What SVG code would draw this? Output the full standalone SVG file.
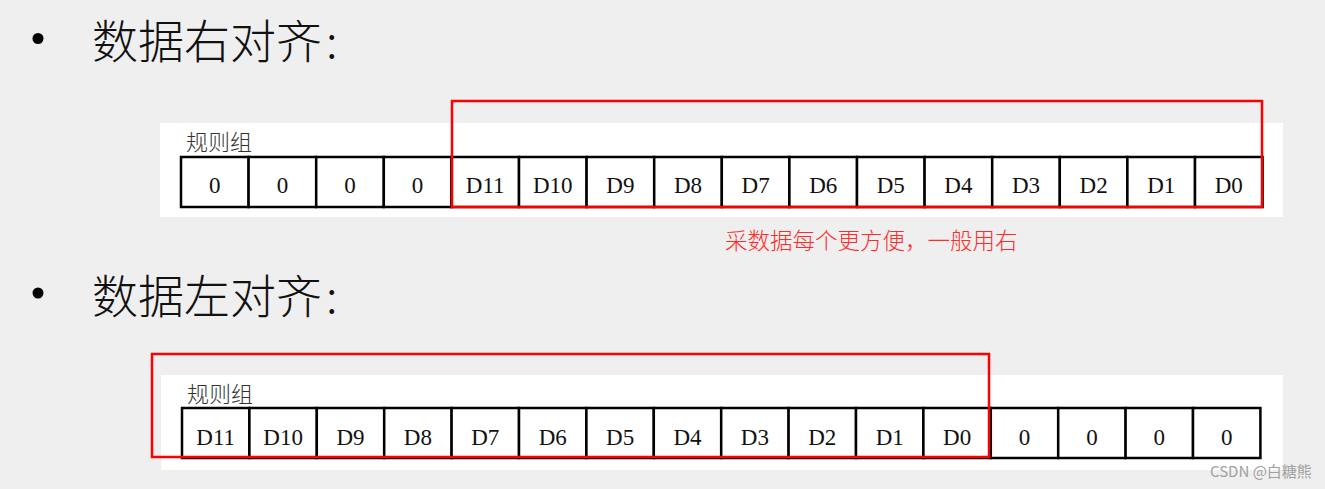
<svg xmlns="http://www.w3.org/2000/svg" width="1325" height="489" viewBox="0 0 1325 489">
<style>
.title{font-family:"Noto Sans CJK SC","Noto Sans",sans-serif;font-size:46px;font-weight:300;fill:#111}
.lbl{font-family:"Noto Sans CJK SC",sans-serif;font-size:22px;font-weight:300;fill:#333}
.cell rect{fill:#fff;stroke:#000;stroke-width:2.5}
.cell text{font-family:"Liberation Serif","Noto Sans CJK SC",serif;font-size:23px;fill:#111;text-anchor:middle}
.hl{fill:none;stroke:#ff0000;stroke-width:2.5}
.note{font-family:"Noto Sans CJK SC",sans-serif;font-size:22.5px;font-weight:300;fill:#ff2a2a}
.wm{font-family:"Noto Sans CJK SC","Liberation Sans",sans-serif;font-size:15px;fill:#a0a0a0}
</style>
<rect width="1325" height="489" fill="#efefef"/>

<g id="title1">
<circle cx="38" cy="38.5" r="5.5" fill="#000"/>
<text class="title" x="92" y="58">数据右对齐<tspan dx="4">:</tspan></text>
</g>

<g id="table1">
<rect x="160" y="123" width="1123" height="94" fill="#fff"/>
<text class="lbl" x="186" y="150">规则组</text>
<g class="cell">
<rect x="181" y="157" width="67.6" height="50"/><text x="214.8" y="193">0</text>
<rect x="248.6" y="157" width="67.6" height="50"/><text x="282.4" y="193">0</text>
<rect x="316.2" y="157" width="67.6" height="50"/><text x="350" y="193">0</text>
<rect x="383.8" y="157" width="67.6" height="50"/><text x="417.6" y="193">0</text>
<rect x="451.4" y="157" width="67.6" height="50"/><text x="485.2" y="193">D11</text>
<rect x="519" y="157" width="67.6" height="50"/><text x="552.8" y="193">D10</text>
<rect x="586.6" y="157" width="67.6" height="50"/><text x="620.4" y="193">D9</text>
<rect x="654.2" y="157" width="67.6" height="50"/><text x="688" y="193">D8</text>
<rect x="721.8" y="157" width="67.6" height="50"/><text x="755.6" y="193">D7</text>
<rect x="789.4" y="157" width="67.6" height="50"/><text x="823.2" y="193">D6</text>
<rect x="857" y="157" width="67.6" height="50"/><text x="890.8" y="193">D5</text>
<rect x="924.6" y="157" width="67.6" height="50"/><text x="958.4" y="193">D4</text>
<rect x="992.2" y="157" width="67.6" height="50"/><text x="1026" y="193">D3</text>
<rect x="1059.8" y="157" width="67.6" height="50"/><text x="1093.6" y="193">D2</text>
<rect x="1127.4" y="157" width="67.6" height="50"/><text x="1161.2" y="193">D1</text>
<rect x="1195" y="157" width="67.6" height="50"/><text x="1228.8" y="193">D0</text>
</g>
</g>

<g id="highlight1">
<rect class="hl" x="452" y="101" width="810" height="106"/>
</g>
<g id="note1">
<text class="note" x="725" y="249">采数据每个更方便，一般用右</text>
</g>

<g id="title2">
<circle cx="38" cy="293" r="5.5" fill="#000"/>
<text class="title" x="92" y="313">数据左对齐<tspan dx="4">:</tspan></text>
</g>

<g id="table2">
<rect x="161" y="375" width="1122" height="95" fill="#fff"/>
<text class="lbl" x="187" y="402">规则组</text>
<g class="cell">
<rect x="182" y="408" width="67.4" height="50"/><text x="215.7" y="445">D11</text>
<rect x="249.4" y="408" width="67.4" height="50"/><text x="283.1" y="445">D10</text>
<rect x="316.8" y="408" width="67.4" height="50"/><text x="350.5" y="445">D9</text>
<rect x="384.2" y="408" width="67.4" height="50"/><text x="417.9" y="445">D8</text>
<rect x="451.6" y="408" width="67.4" height="50"/><text x="485.3" y="445">D7</text>
<rect x="519" y="408" width="67.4" height="50"/><text x="552.7" y="445">D6</text>
<rect x="586.4" y="408" width="67.4" height="50"/><text x="620.1" y="445">D5</text>
<rect x="653.8" y="408" width="67.4" height="50"/><text x="687.5" y="445">D4</text>
<rect x="721.2" y="408" width="67.4" height="50"/><text x="754.9" y="445">D3</text>
<rect x="788.6" y="408" width="67.4" height="50"/><text x="822.3" y="445">D2</text>
<rect x="856" y="408" width="67.4" height="50"/><text x="889.7" y="445">D1</text>
<rect x="923.4" y="408" width="67.4" height="50"/><text x="957.1" y="445">D0</text>
<rect x="990.8" y="408" width="67.4" height="50"/><text x="1024.5" y="445">0</text>
<rect x="1058.2" y="408" width="67.4" height="50"/><text x="1091.9" y="445">0</text>
<rect x="1125.6" y="408" width="67.4" height="50"/><text x="1159.3" y="445">0</text>
<rect x="1193" y="408" width="67.4" height="50"/><text x="1226.7" y="445">0</text>
</g>
</g>

<g id="highlight2">
<rect class="hl" x="152" y="354" width="837" height="103"/>
</g>

<text class="wm" x="1210" y="477">CSDN @白糖熊</text>
</svg>
